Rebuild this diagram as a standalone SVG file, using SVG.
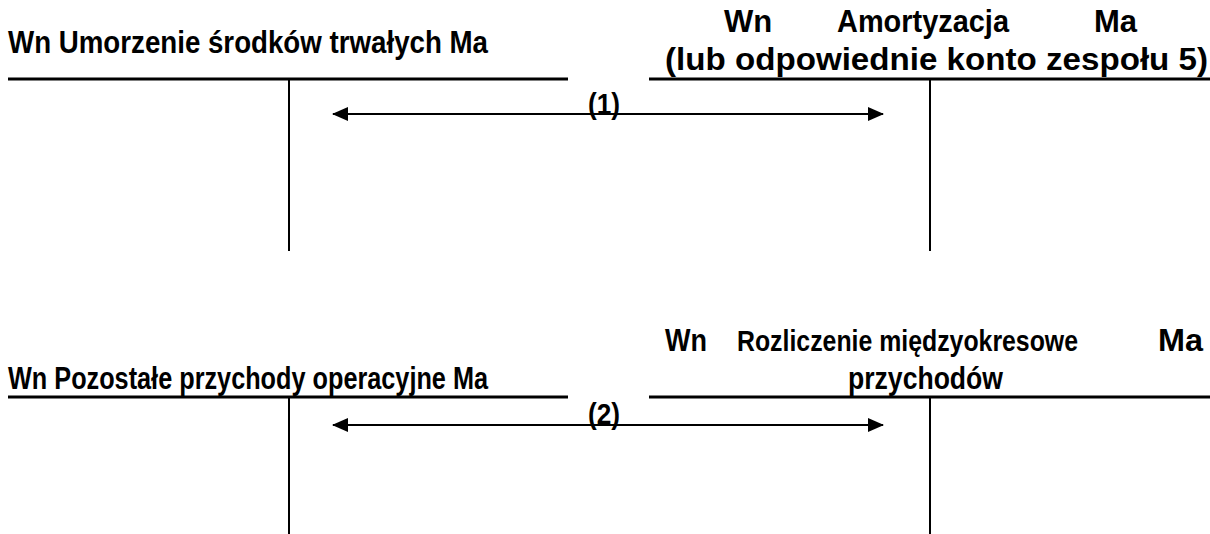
<svg xmlns="http://www.w3.org/2000/svg" width="1210" height="534" viewBox="0 0 1210 534">
<style>
.t{font-family:"Liberation Sans",Arial,sans-serif;font-weight:bold;font-size:31px;fill:#000}
.lbl{font-family:"Liberation Sans",Arial,sans-serif;font-weight:bold;font-size:30px;fill:#000}
.rule{stroke:#000;stroke-width:3;fill:none}
.vert{stroke:#000;stroke-width:2;fill:none}
.conn{stroke:#000;stroke-width:2;fill:none;marker-start:url(#ah);marker-end:url(#ah)}
</style>
<defs>
<marker id="ah" viewBox="0 0 16 14" refX="15" refY="7" markerWidth="16" markerHeight="14" markerUnits="userSpaceOnUse" orient="auto-start-reverse">
<path d="M0,0 L16,7 L0,14 Z" fill="#000"/>
</marker>
</defs>
<rect width="1210" height="534" fill="#fff"/>
<g id="account-umorzenie">
<text class="t" x="8" y="53" textLength="480" lengthAdjust="spacingAndGlyphs">Wn Umorzenie środków trwałych Ma</text>
<line class="rule" x1="8" y1="79" x2="568" y2="79"/>
<line class="vert" x1="289" y1="79" x2="289" y2="251"/>
</g>
<g id="account-amortyzacja">
<text class="t" y="32"><tspan x="724">Wn</tspan><tspan x="837" textLength="172" lengthAdjust="spacingAndGlyphs">Amortyzacja</tspan><tspan x="1094">Ma</tspan></text>
<text class="t" x="665" y="70" textLength="543" lengthAdjust="spacingAndGlyphs">(lub odpowiednie konto zespołu 5)</text>
<line class="rule" x1="649" y1="79" x2="1210" y2="79"/>
<line class="vert" x1="930" y1="79" x2="930" y2="251"/>
</g>
<g id="account-pozostale">
<text class="t" x="8" y="389" textLength="480" lengthAdjust="spacingAndGlyphs">Wn Pozostałe przychody operacyjne Ma</text>
<line class="rule" x1="8" y1="397" x2="568" y2="397"/>
<line class="vert" x1="289" y1="397" x2="289" y2="534"/>
</g>
<g id="account-rozliczenie">
<text class="t" y="351"><tspan x="665" textLength="42" lengthAdjust="spacingAndGlyphs">Wn</tspan><tspan x="737" font-size="29" textLength="341" lengthAdjust="spacingAndGlyphs">Rozliczenie międzyokresowe</tspan><tspan x="1158" textLength="45" lengthAdjust="spacingAndGlyphs">Ma</tspan></text>
<text class="t" x="848" y="389" textLength="155" lengthAdjust="spacingAndGlyphs">przychodów</text>
<line class="rule" x1="649" y1="397" x2="1210" y2="397"/>
<line class="vert" x1="930" y1="397" x2="930" y2="534"/>
</g>
<g id="connectors">
<line class="conn" x1="333" y1="114" x2="883" y2="114"/>
<text class="lbl" x="588" y="114" textLength="32" lengthAdjust="spacingAndGlyphs">(1)</text>
<line class="conn" x1="333" y1="425" x2="883" y2="425"/>
<text class="lbl" x="588" y="424" textLength="32" lengthAdjust="spacingAndGlyphs">(2)</text>
</g>
</svg>
